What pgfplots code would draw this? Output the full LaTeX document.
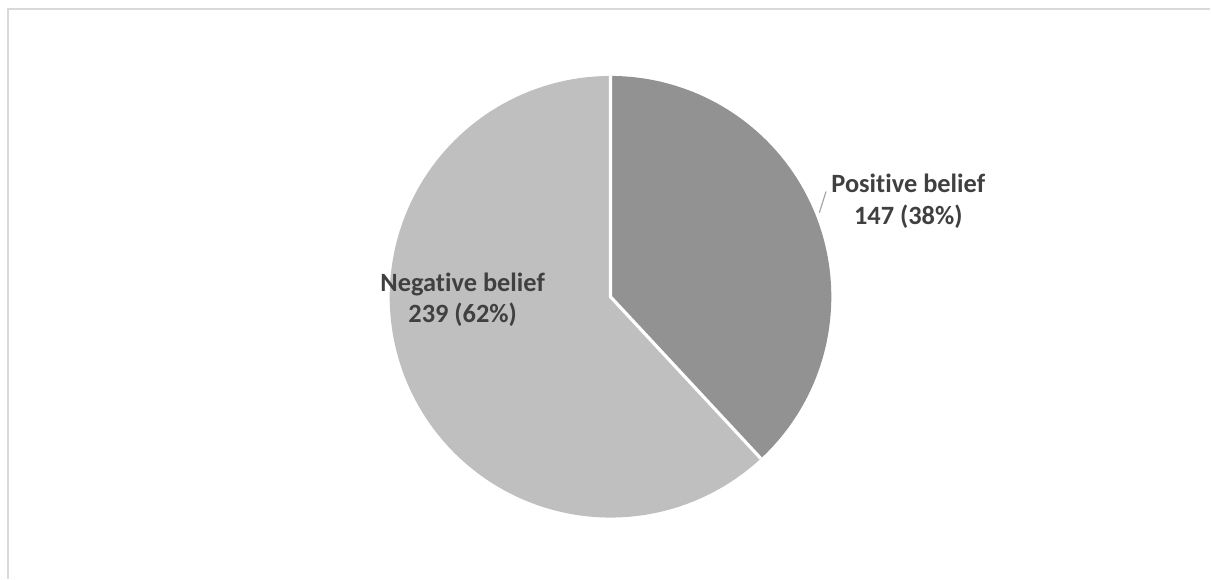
\documentclass[border=0pt]{standalone}
\usepackage{pgfplots}
\pgfplotsset{compat=1.18}
\usepackage{fontspec}
\setmainfont{Carlito}[Ligatures=NoCommon]
\definecolor{posc}{HTML}{929292}
\definecolor{negc}{HTML}{BFBFBF}
\definecolor{txt}{HTML}{404040}
\definecolor{frame}{HTML}{D9D9D9}
\begin{document}
\begin{tikzpicture}
\pgfmathsetmacro{\valP}{147}
\pgfmathsetmacro{\valN}{239}
\pgfmathsetmacro{\angP}{\valP/(\valP+\valN)*360}
\pgfmathsetmacro{\split}{90-\angP}
\begin{axis}[
  scale only axis, width=605.5pt, height=289.5pt,
  xmin=-2.76471, xmax=2.71493, ymin=-1.27602, ymax=1.34389,
  hide axis, clip=false,
]
\path (rel axis cs:0,0) (rel axis cs:1,1);
\draw[frame, line width=1pt] (rel axis cs:1,0.9836) -- (rel axis cs:0.00644,0.9836) -- (rel axis cs:0.00644,0);
\addplot[fill=posc, draw=none, domain=\split:90, samples=150] ({cos(x)},{sin(x)}) -- (axis cs:0,0) -- cycle;
\addplot[fill=negc, draw=none, domain=-270:\split, samples=250] ({cos(x)},{sin(x)}) -- (axis cs:0,0) -- cycle;
\draw[white, line width=1.6pt] (axis cs:0,1) -- (axis cs:0,0) -- (axis cs:{cos(\split)},{sin(\split)});
\draw[color=black!35, line width=0.6pt] (axis cs:0.976,0.4765) -- (axis cs:0.9457,0.3801);
\node[anchor=base, text=txt, font=\fontsize{13.2}{16}\selectfont\bfseries] at (axis cs:1.3484,0.4706) {Positive belief};
\node[anchor=base, text=txt, font=\fontsize{13.2}{16}\selectfont\bfseries] at (axis cs:1.3484,0.3258) {147 (38\%)};
\node[anchor=base, text=txt, font=\fontsize{13.2}{16}\selectfont\bfseries] at (axis cs:-0.6697,0.0226) {Negative belief};
\node[anchor=base, text=txt, font=\fontsize{13.2}{16}\selectfont\bfseries] at (axis cs:-0.6697,-0.1176) {239 (62\%)};
\end{axis}
\end{tikzpicture}
\end{document}
